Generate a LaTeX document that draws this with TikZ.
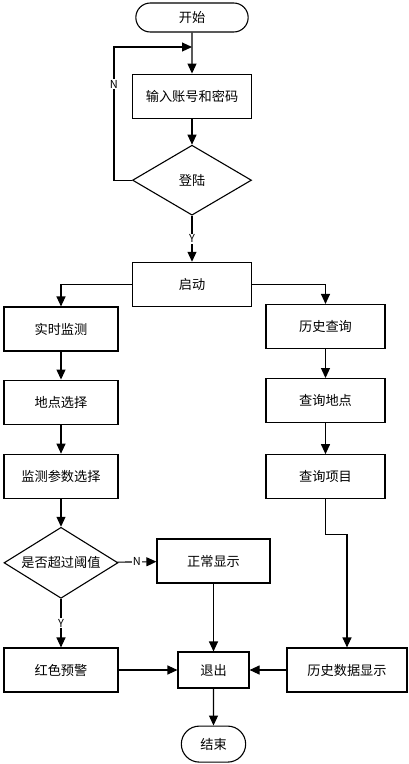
\documentclass[tikz,border=0pt]{standalone}
\usepackage{fontspec}
\setmainfont{Noto Sans CJK SC}
\usetikzlibrary{arrows.meta,positioning,shapes.geometric,shapes.misc}

\begin{document}
\begin{tikzpicture}[x=1pt,y=-1pt,>={Triangle[length=10pt,width=9pt]},font=\fontsize{13.2}{15}\selectfont,line width=1.1pt,
  stepbox/.style={draw,minimum width=119pt,minimum height=44pt,inner sep=2pt},
  term/.style={draw,rounded rectangle,minimum width=119pt,minimum height=29pt},
  decide/.style={draw,diamond,aspect=1.6,inner sep=0pt,minimum width=119pt,minimum height=70pt},
  lbl/.style={fill=white,inner sep=1pt,font=\fontsize{11}{13}\selectfont}]
  \useasboundingbox (0,0) rectangle (409,764);
  \node[term] (start) at (192,17.5) {开始};
  \node[stepbox,below=41pt of start] (input) {输入账号和密码};
  \node[decide,below=26pt of input] (login) {登陆};
  \node[stepbox,below=46pt of login] (launch) {启动};
  \node[stepbox,minimum width=114pt] (realtime) at (61,329) {实时监测};
  \node[stepbox,minimum width=114pt,below=28pt of realtime] (site) {地点选择};
  \node[stepbox,minimum width=114pt,below=29pt of site] (param) {监测参数选择};
  \node[decide,minimum width=114pt,minimum height=71pt,below=28pt of param] (thresh) {是否超过阈值};
  \node[stepbox,minimum width=114pt] (alarm) at (61,670) {红色预警};
  \node[stepbox,minimum width=113pt] (normal) at (213.5,561) {正常显示};
  \node[stepbox] (history) at (325.5,326.5) {历史查询};
  \node[stepbox,below=29pt of history] (qsite) {查询地点};
  \node[stepbox,below=31pt of qsite] (qitem) {查询项目};
  \node[stepbox,minimum width=120pt] (hshow) at (347,670) {历史数据显示};
  \node[stepbox,minimum width=71pt,minimum height=36pt] (quit) at (213.5,670) {退出};
  \node[term,minimum width=71pt,minimum height=36pt,below=37pt of quit] (stop) {结束};
  \coordinate (join) at (192,47);
  \draw[->] (start) -- (input);
  \draw[->] (input) -- (login);
  \draw[->] (login.west) -- ++(-18,0) |- node[lbl,pos=0.36]{N} (join);
  \draw[->] (login) -- node[lbl]{Y} (launch);
  \draw[->] (launch.west) -| (realtime);
  \draw[->] (launch.east) -| (history);
  \draw[->] (realtime) -- (site);
  \draw[->] (site) -- (param);
  \draw[->] (param) -- (thresh);
  \draw[->] (thresh) -- node[lbl]{N} (normal);
  \draw[->] (thresh) -- node[lbl]{Y} (alarm);
  \draw[->] (history) -- (qsite);
  \draw[->] (qsite) -- (qitem);
  \draw[->] (qitem.south) -- ++(0,35) -| (hshow);
  \draw[->] (normal) -- (quit);
  \draw[->] (alarm) -- (quit);
  \draw[->] (hshow) -- (quit);
  \draw[->] (quit) -- (stop);
\end{tikzpicture}
\end{document}
